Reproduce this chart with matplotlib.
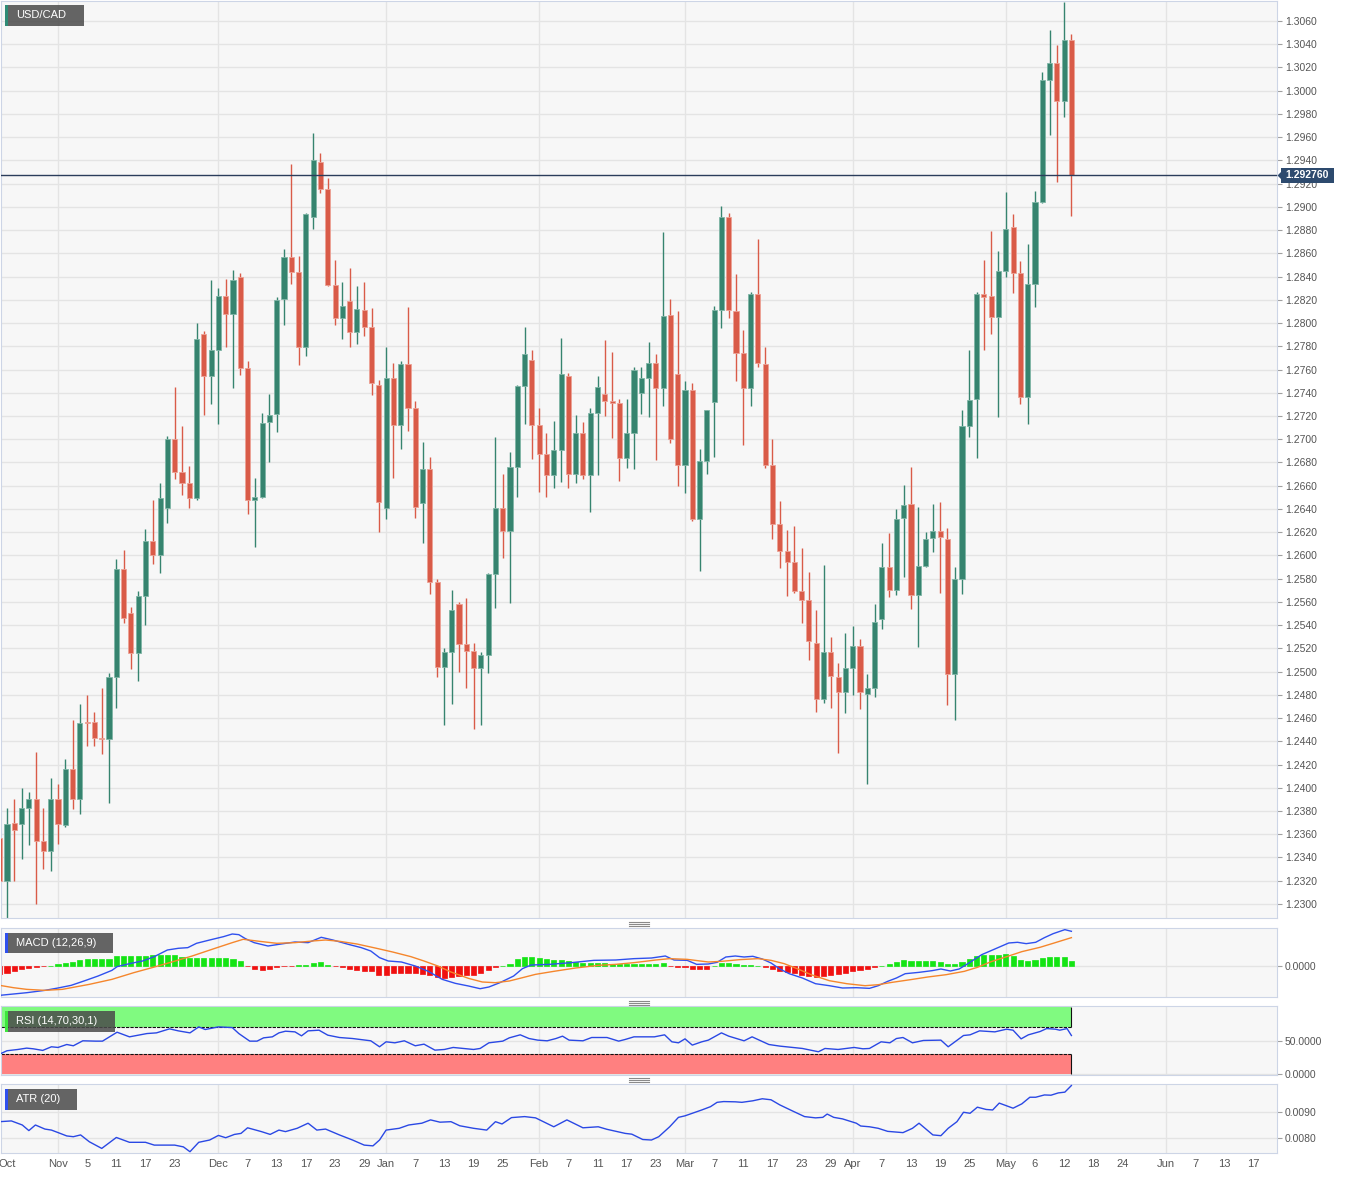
import numpy as np
import pandas as pd
import matplotlib
matplotlib.use("Agg")
import matplotlib.pyplot as plt
from matplotlib.patches import Rectangle, Polygon
from matplotlib.lines import Line2D

plt.rcParams['font.family'] = ['Liberation Sans', 'DejaVu Sans']

# === 1. Данные (USD/CAD, дневные свечи) ===
start, end = "2021-10-20", "2022-05-13"
base_day = "2021-10-21"

opens = [1.2357, 1.2320, 1.2370, 1.2369, 1.2383, 1.2390, 1.2354, 1.2346, 1.2390, 1.2368,
         1.2416, 1.2390, 1.2457, 1.2457, 1.2443, 1.2442, 1.2495, 1.2588, 1.2550, 1.2516,
         1.2565, 1.2612, 1.2600, 1.2641, 1.2700, 1.2672, 1.2662, 1.2649, 1.2791, 1.2754,
         1.2777, 1.2823, 1.2808, 1.2840, 1.2761, 1.2648, 1.2650, 1.2715, 1.2722, 1.2821,
         1.2857, 1.2844, 1.2779, 1.2891, 1.2939, 1.2915, 1.2833, 1.2804, 1.2819, 1.2792,
         1.2811, 1.2797, 1.2747, 1.2641, 1.2753, 1.2712, 1.2765, 1.2727, 1.2645, 1.2674,
         1.2577, 1.2504, 1.2517, 1.2558, 1.2524, 1.2518, 1.2503, 1.2514, 1.2584, 1.2641,
         1.2621, 1.2676, 1.2746, 1.2768, 1.2712, 1.2687, 1.2669, 1.2691, 1.2754, 1.2670,
         1.2705, 1.2669, 1.2723, 1.2739, 1.2733, 1.2731, 1.2684, 1.2705, 1.2740, 1.2753,
         1.2766, 1.2744, 1.2807, 1.2756, 1.2678, 1.2742, 1.2631, 1.2681, 1.2732, 1.2811,
         1.2891, 1.2810, 1.2774, 1.2744, 1.2825, 1.2765, 1.2678, 1.2627, 1.2604, 1.2594,
         1.2569, 1.2562, 1.2525, 1.2476, 1.2517, 1.2495, 1.2482, 1.2503, 1.2522, 1.2481,
         1.2486, 1.2545, 1.2590, 1.2570, 1.2632, 1.2644, 1.2566, 1.2591, 1.2615, 1.2621,
         1.2614, 1.2498, 1.2580, 1.2711, 1.2735, 1.2825, 1.2823, 1.2805, 1.2845, 1.2883,
         1.2843, 1.2736, 1.2834, 1.2904, 1.3009, 1.3024, 1.2991, 1.3044]
highs = [1.2372, 1.2383, 1.2390, 1.2400, 1.2396, 1.2431, 1.2383, 1.2408, 1.2403, 1.2425,
         1.2458, 1.2472, 1.2480, 1.2465, 1.2486, 1.2499, 1.2597, 1.2605, 1.2556, 1.2569,
         1.2623, 1.2648, 1.2662, 1.2703, 1.2745, 1.2711, 1.2677, 1.2800, 1.2793, 1.2837,
         1.2830, 1.2838, 1.2846, 1.2843, 1.2767, 1.2667, 1.2723, 1.2739, 1.2822, 1.2864,
         1.2937, 1.2858, 1.2895, 1.2964, 1.2946, 1.2925, 1.2854, 1.2835, 1.2847, 1.2832,
         1.2835, 1.2813, 1.2751, 1.2779, 1.2766, 1.2767, 1.2814, 1.2733, 1.2698, 1.2685,
         1.2580, 1.2520, 1.2570, 1.2560, 1.2563, 1.2525, 1.2517, 1.2585, 1.2702, 1.2670,
         1.2689, 1.2747, 1.2797, 1.2777, 1.2727, 1.2705, 1.2716, 1.2787, 1.2757, 1.2721,
         1.2715, 1.2727, 1.2754, 1.2785, 1.2775, 1.2735, 1.2735, 1.2762, 1.2762, 1.2784,
         1.2773, 1.2878, 1.2821, 1.2810, 1.2750, 1.2748, 1.2692, 1.2725, 1.2815, 1.2901,
         1.2895, 1.2842, 1.2794, 1.2827, 1.2872, 1.2779, 1.2700, 1.2647, 1.2622, 1.2625,
         1.2606, 1.2586, 1.2553, 1.2592, 1.2530, 1.2507, 1.2533, 1.2539, 1.2528, 1.2498,
         1.2558, 1.2611, 1.2619, 1.2640, 1.2661, 1.2676, 1.2642, 1.2620, 1.2644, 1.2646,
         1.2624, 1.2590, 1.2725, 1.2777, 1.2827, 1.2854, 1.2879, 1.2862, 1.2913, 1.2894,
         1.2853, 1.2868, 1.2914, 1.3016, 1.3052, 1.3039, 1.3076, 1.3049]
lows = [1.2308, 1.2288, 1.2320, 1.2339, 1.2351, 1.2300, 1.2330, 1.2328, 1.2352, 1.2366,
        1.2382, 1.2377, 1.2436, 1.2436, 1.2429, 1.2387, 1.2469, 1.2542, 1.2502, 1.2492,
        1.2540, 1.2593, 1.2585, 1.2628, 1.2666, 1.2652, 1.2641, 1.2648, 1.2721, 1.2730,
        1.2713, 1.2779, 1.2744, 1.2755, 1.2636, 1.2607, 1.2649, 1.2680, 1.2706, 1.2798,
        1.2834, 1.2764, 1.2772, 1.2881, 1.2912, 1.2832, 1.2798, 1.2786, 1.2779, 1.2782,
        1.2789, 1.2738, 1.2620, 1.2631, 1.2667, 1.2692, 1.2707, 1.2632, 1.2611, 1.2567,
        1.2495, 1.2454, 1.2472, 1.2500, 1.2486, 1.2451, 1.2454, 1.2499, 1.2555, 1.2598,
        1.2559, 1.2650, 1.2713, 1.2683, 1.2655, 1.2650, 1.2658, 1.2663, 1.2658, 1.2662,
        1.2666, 1.2637, 1.2669, 1.2720, 1.2701, 1.2664, 1.2675, 1.2674, 1.2722, 1.2719,
        1.2682, 1.2729, 1.2697, 1.2660, 1.2654, 1.2630, 1.2587, 1.2670, 1.2685, 1.2796,
        1.2804, 1.2750, 1.2695, 1.2729, 1.2762, 1.2675, 1.2614, 1.2589, 1.2565, 1.2568,
        1.2542, 1.2510, 1.2465, 1.2473, 1.2469, 1.2430, 1.2464, 1.2480, 1.2468, 1.2403,
        1.2478, 1.2537, 1.2564, 1.2566, 1.2581, 1.2554, 1.2521, 1.2590, 1.2603, 1.2568,
        1.2471, 1.2458, 1.2567, 1.2702, 1.2684, 1.2777, 1.2791, 1.2719, 1.2840, 1.2826,
        1.2730, 1.2713, 1.2814, 1.2903, 1.2962, 1.2921, 1.2977, 1.2892]
closes = [1.2320, 1.2369, 1.2364, 1.2383, 1.2390, 1.2354, 1.2346, 1.2390, 1.2369, 1.2416,
          1.2390, 1.2456, 1.2456, 1.2443, 1.2442, 1.2495, 1.2588, 1.2546, 1.2516, 1.2565,
          1.2612, 1.2600, 1.2649, 1.2700, 1.2672, 1.2662, 1.2649, 1.2786, 1.2754, 1.2777,
          1.2823, 1.2808, 1.2837, 1.2761, 1.2648, 1.2650, 1.2714, 1.2721, 1.2820, 1.2857,
          1.2844, 1.2779, 1.2894, 1.2940, 1.2915, 1.2833, 1.2804, 1.2815, 1.2792, 1.2812,
          1.2797, 1.2748, 1.2646, 1.2753, 1.2712, 1.2765, 1.2727, 1.2642, 1.2674, 1.2577,
          1.2504, 1.2517, 1.2553, 1.2524, 1.2518, 1.2503, 1.2514, 1.2584, 1.2641, 1.2621,
          1.2676, 1.2746, 1.2773, 1.2712, 1.2687, 1.2669, 1.2691, 1.2756, 1.2670, 1.2705,
          1.2669, 1.2723, 1.2745, 1.2733, 1.2731, 1.2684, 1.2705, 1.2760, 1.2753, 1.2766,
          1.2744, 1.2806, 1.2700, 1.2678, 1.2742, 1.2631, 1.2681, 1.2725, 1.2811, 1.2891,
          1.2811, 1.2774, 1.2744, 1.2825, 1.2766, 1.2678, 1.2627, 1.2604, 1.2594, 1.2569,
          1.2562, 1.2526, 1.2476, 1.2517, 1.2496, 1.2482, 1.2503, 1.2522, 1.2482, 1.2486,
          1.2543, 1.2590, 1.2570, 1.2631, 1.2643, 1.2566, 1.2591, 1.2614, 1.2621, 1.2616,
          1.2498, 1.2580, 1.2711, 1.2734, 1.2825, 1.2822, 1.2805, 1.2845, 1.2881, 1.2843,
          1.2736, 1.2834, 1.2904, 1.3009, 1.3024, 1.2991, 1.3044, 1.29276]
last_price = 1.29276

# гистограмма MACD (единицы 1e-4), по одному значению на свечу
macd_hist = [-16.6, -13.4, -10.6, -6.6, -3.4, -1.4, -0.4, 1.0, 3.4, 6.6,
             8.6, 12, 13.4, 13.4, 14, 14.6, 20.6, 20.6, 20, 19.4,
             20, 21.4, 22, 22.6, 21.4, 18.6, 16.6, 16.6, 16.6, 16.6,
             16.6, 15.4, 14.6, 10, -0.6, -5.4, -7.4, -6.6, -2, -0.6,
             -0.2, 1.4, 2, 6.6, 7.4, 2, -0.2, -2, -5.4, -7.4,
             -9.4, -10.6, -17.4, -17.4, -14.6, -13.4, -13.4, -14.6, -16.6, -18.6,
             -22, -24.6, -22.6, -20.6, -18.6, -17.4, -13.4, -8, -2.6, 0.4,
             4.6, 13.4, 18.6, 18.6, 16, 13.4, 12, 12, 9.4, 8,
             6.6, 6, 5.4, 5.4, 4.6, 3.4, 3.4, 3.4, 4, 3.4,
             3.4, 5.4, -0.6, -2, -2.6, -5.4, -6.6, -6, 0.4, 5.4,
             6.6, 4, 1.4, 1.4, 0.6, -2.6, -6.6, -10.6, -12, -14.6,
             -17.4, -20, -21.4, -19.4, -18, -16.6, -14.6, -10.6, -8, -6.6,
             -2.6, 0.6, 4, 7.4, 12, 10.6, 10, 10.6, 10.6, 8.6,
             4, 4, 8.6, 13.4, 20.6, 22.6, 22.6, 22.6, 23.4, 20,
             12, 10.6, 12, 16, 18.6, 18, 18, 10.6]

# линии MACD / сигнальная (номер свечи, значение 1e-4)
macd_bar = [-1.0, 2.7, 5.2, 7.0, 8.8, 10.7, 12.5, 14.4, 15.1, 16.8, 18.6, 20.2, 22.0, 23.5, 24.8,
            26.0, 27.8, 29.7, 30.9, 31.8, 32.7, 33.9, 35.8, 37.6, 39.5, 41.3, 43.1, 44.7, 46.8,
            48.6, 49.9, 51.1, 52.3, 54.1, 56.0, 57.8, 59.7, 61.5, 63.3, 64.9, 66.1, 67.6, 69.5,
            70.7, 71.9, 74.4, 77.4, 80.5, 83.5, 86.0, 88.4, 90.3, 91.5, 93.3, 94.6, 96.2, 97.4,
            98.6, 99.9, 101.1, 102.3, 103.6, 104.8, 106.0, 107.3, 109.1, 110.9, 112.8, 114.6,
            116.5, 118.3, 119.5, 120.8, 122.0, 123.2, 125.1, 126.9, 128.1, 129.4, 130.6, 131.8,
            133.7, 135.5, 137.4, 138.6, 139.8, 141.1, 142.3, 143.5, 145.1, 146.0]
macd_line = [-58.7, -53.4, -48.7, -44.0, -38.7, -29.3, -20.0, -8.7, -1.3, 4.7, 10.0, 18.7, 32.0, 35.4,
             36.7, 45.4, 52.0, 58.7, 64.0, 62.7, 54.7, 46.7, 40.0, 44.0, 48.0, 46.7, 57.4, 52.0,
             43.4, 36.7, 30.0, 16.7, 10.0, 8.0, 0.0, -10.7, -26.7, -34.7, -40.0, -45.4, -42.0,
             -33.4, -20.0, -5.3, 2.0, 3.3, 6.7, 11.3, 12.0, 14.7, 16.0, 20.0, 12.0, 11.3, 3.3,
             4.0, 7.3, 18.0, 20.0, 18.0, 19.4, 14.0, 6.0, -6.0, -15.4, -24.0, -35.4, -39.4,
             -44.0, -43.4, -44.7, -39.4, -30.7, -24.0, -15.4, -12.7, -9.3, -6.0, -10.0, -6.0,
             4.7, 22.7, 34.0, 46.0, 47.4, 44.7, 47.4, 56.7, 64.7, 72.7, 69.4]
signal_bar = [-1.0, 0.9, 2.7, 5.2, 7.6, 11.3, 14.4, 17.4, 19.9, 22.3, 25.4, 28.4, 30.9, 32.4, 34.6,
              37.0, 39.5, 41.9, 43.7, 45.6, 48.0, 50.5, 52.9, 55.4, 57.2, 59.1, 60.9, 63.3, 65.2,
              67.0, 68.9, 70.7, 72.5, 75.0, 78.0, 81.1, 83.5, 86.0, 89.0, 90.9, 93.3, 95.1, 96.2,
              98.0, 100.5, 103.0, 104.8, 106.6, 108.5, 110.3, 112.8, 115.2, 117.7, 119.5, 121.4,
              123.9, 126.3, 128.8, 131.3, 133.1, 135.0, 137.4, 139.2, 141.7, 143.5, 146.0]
signal_line = [-38.7, -43.4, -46.7, -48.7, -46.7, -36.7, -26.7, -13.3, -3.3, 6.7, 20.0, 34.7, 46.7,
               53.4, 49.4, 45.4, 46.7, 50.0, 52.0, 49.4, 44.0, 36.0, 28.0, 18.7, 10.0, 0.0, -12.0,
               -24.7, -32.0, -33.4, -30.0, -23.4, -16.7, -10.7, -4.0, 1.3, 3.3, 6.7, 12.0, 14.7,
               13.3, 10.0, 8.0, 9.3, 12.7, 14.7, 11.3, 4.7, -6.0, -17.4, -29.4, -35.4, -39.4,
               -37.4, -32.7, -27.4, -22.0, -17.4, -10.7, -2.7, 8.7, 20.0, 28.7, 37.4, 45.4, 56.7]

rsi_bar = [-1, 0, 1.5, 2.7, 3.6, 4.9, 6.1, 7.0, 8.2, 9.1, 10.4, 12.2, 13.1, 15.1, 16.8, 19.2, 20.5,
           22.3, 23.5, 25.1, 26.3, 27.2, 29.0, 30.9, 31.8, 33.3, 34.3, 35.2, 36.4, 37.3, 38.2,
           39.5, 40.4, 41.3, 42.8, 44.0, 45.6, 47.4, 49.9, 51.1, 52.0, 53.2, 54.5, 56.0, 57.2,
           58.7, 60.0, 61.2, 64.0, 64.9, 66.1, 68.0, 68.9, 70.4, 71.6, 72.8, 74.1, 75.3, 76.2,
           77.1, 79.0, 80.2, 82.3, 83.9, 84.8, 86.0, 88.8, 90.2, 91.2, 92.1, 93.0, 94.0, 95.3,
           96.2, 98.0, 99.0, 101.1, 102.2, 104.5, 106.0, 109.1, 111.3, 112.2, 114.0, 116.2,
           117.4, 118.3, 119.9, 121.1, 122.0, 122.9, 124.2, 125.7, 128.1, 129.1, 131.2, 132.1,
           133.4, 135.5, 137.1, 138.0, 139.1, 140.1, 141.7, 142.6, 143.8, 144.4, 145.4, 146.0]
rsi_vals = [30.1, 35.1, 37.0, 39.0, 38.0, 35.6, 41.0, 40.0, 44.4, 42.5, 49.9, 49.4, 49.4, 62.7, 55.8,
            60.7, 61.7, 67.7, 64.7, 61.7, 70.6, 66.7, 70.6, 69.6, 60.7, 49.4, 49.4, 54.3, 55.8,
            61.7, 64.2, 63.2, 57.3, 64.7, 65.7, 58.3, 54.8, 53.3, 49.9, 41.0, 48.4, 46.9, 49.9,
            42.5, 44.9, 36.0, 37.0, 40.0, 37.0, 38.5, 46.9, 49.4, 54.3, 58.8, 53.3, 50.9, 49.9,
            53.3, 56.8, 50.9, 49.9, 54.8, 54.8, 49.4, 51.9, 55.8, 55.8, 58.8, 48.4, 46.9, 52.8,
            43.5, 48.4, 50.9, 61.7, 56.8, 49.9, 55.8, 44.4, 42.0, 38.5, 33.6, 38.5, 37.0, 40.0,
            38.0, 38.5, 48.4, 46.9, 53.3, 54.8, 46.9, 50.4, 50.9, 41.0, 57.8, 58.8, 64.7, 63.2,
            67.2, 65.7, 52.8, 58.8, 63.7, 68.1, 67.2, 65.7, 68.1, 57.8]

atr_bar = [-1, 0.6, 2.1, 3.0, 3.9, 5.2, 6.1, 7.3, 8.2, 9.1, 10.1, 11.3, 13.0, 15.0, 16.8, 19.0,
           20.2, 23.0, 24.2, 25.1, 26.3, 27.8, 29.0, 30.0, 31.2, 32.1, 33.0, 34.9, 36.1, 37.3,
           38.2, 39.8, 41.3, 42.5, 43.7, 45.6, 47.4, 49.0, 50.2, 51.1, 52.0, 53.8, 55.1, 56.9,
           58.1, 59.4, 60.9, 62.1, 64.0, 65.8, 67.0, 67.9, 69.2, 71.0, 72.5, 75.0, 76.8, 79.0,
           81.1, 82.3, 84.8, 85.7, 87.2, 88.4, 89.4, 90.9, 92.1, 93.0, 94.0, 95.3, 96.5, 97.4,
           98.3, 99.9, 100.8, 102.3, 103.6, 104.8, 106.0, 107.9, 109.4, 110.9, 111.9, 112.5,
           113.4, 114.6, 116.5, 117.1, 118.3, 119.5, 120.8, 122.9, 124.2, 125.1, 127.0, 128.1,
           129.1, 130.3, 131.2, 132.1, 133.1, 134.3, 135.2, 136.1, 138.0, 139.2, 140.3, 141.1,
           142.3, 143.2, 144.2, 145.1, 146.0]
atr_vals = [86.3, 86.6, 85.0, 82.8, 85.0, 83.4, 83.0, 81.7, 80.7, 80.4, 81.1, 78.4, 75.8, 80.1, 78.2,
            78.2, 77.1, 77.1, 76.4, 74.5, 78.2, 79.1, 80.9, 80.0, 81.3, 81.7, 83.9, 82.4, 81.3,
            83.0, 82.4, 83.7, 85.7, 83.0, 83.4, 81.1, 79.1, 77.1, 76.8, 79.1, 83.0, 83.7, 85.0,
            85.7, 87.0, 86.1, 86.3, 84.7, 83.7, 83.0, 86.3, 85.4, 87.9, 88.3, 87.8, 84.3, 87.0,
            83.9, 84.3, 83.3, 81.7, 81.4, 79.3, 79.1, 80.4, 84.3, 88.0, 88.6, 89.6, 90.9, 92.2,
            93.9, 94.2, 94.1, 93.9, 94.5, 95.3, 94.9, 92.9, 90.3, 88.3, 87.8, 88.0, 89.3, 88.0,
            87.4, 85.7, 84.6, 84.3, 83.7, 82.5, 82.0, 83.7, 85.7, 81.1, 80.8, 83.7, 86.3, 90.0,
            89.6, 92.0, 91.1, 90.9, 93.6, 91.6, 93.3, 95.9, 95.9, 96.8, 96.7, 97.6, 97.9, 100.5]

month_starts = ["2021-11-01", "2021-12-01", "2022-01-03", "2022-02-01", "2022-03-01",
                "2022-04-01", "2022-05-02", "2022-06-01"]
tick_dates = ["2021-10-21", "2021-11-01", "2021-11-05", "2021-11-11", "2021-11-17", "2021-11-23",
              "2021-12-01", "2021-12-07", "2021-12-13", "2021-12-17", "2021-12-23", "2021-12-29",
              "2022-01-03", "2022-01-07", "2022-01-13", "2022-01-19", "2022-01-25",
              "2022-02-01", "2022-02-07", "2022-02-11", "2022-02-17", "2022-02-23",
              "2022-03-01", "2022-03-07", "2022-03-11", "2022-03-17", "2022-03-23", "2022-03-29",
              "2022-04-01", "2022-04-07", "2022-04-13", "2022-04-19", "2022-04-25",
              "2022-05-02", "2022-05-06", "2022-05-12", "2022-05-18", "2022-05-24",
              "2022-06-01", "2022-06-07", "2022-06-13", "2022-06-17"]
tick_labels = ["Oct", "Nov", "5", "11", "17", "23", "Dec", "7", "13", "17", "23", "29",
               "Jan", "7", "13", "19", "25", "Feb", "7", "11", "17", "23",
               "Mar", "7", "11", "17", "23", "29", "Apr", "7", "13", "19", "25",
               "May", "6", "12", "18", "24", "Jun", "7", "13", "17"]


def bar_pos(days):
    d = np.array(pd.to_datetime(days).values, dtype="datetime64[D]")
    return np.busday_count(np.datetime64(base_day), d)


dates = pd.bdate_range(start, end)
x = bar_pos(dates)
o, h, l, c = map(np.array, (opens, highs, lows, closes))
month_pos = bar_pos(month_starts)

# === 2. Холст и панели ===
W, H = 1353, 1179
fig = plt.figure(figsize=(W / 100, H / 100), dpi=100)
fig.patch.set_facecolor("white")
x_left, x_right = -0.82, 174.2
grid_col = "#e4e4e4"


def panel(y_top, y_bot):
    ax = fig.add_axes([1 / W, 1 - y_bot / H, 1276 / W, (y_bot - y_top) / H])
    ax.set_facecolor("#f7f7f7")
    for s in ax.spines.values():
        s.set_color("#cdd5e6")
    ax.yaxis.tick_right()
    ax.tick_params(axis="y", length=3.8, width=0.8, color="#a0a0a0",
                   labelsize=7.5, labelcolor="#555555", pad=2)
    ax.tick_params(axis="x", length=0, labelbottom=False)
    ax.set_xlim(x_left, x_right)
    ax.vlines(month_pos, 0, 1, transform=ax.get_xaxis_transform(), color=grid_col, lw=1, zorder=0)
    ax.grid(axis="y", color=grid_col, lw=1)
    ax.set_axisbelow(True)
    return ax


ax = panel(1, 918)
ax_macd = panel(928, 997)
ax_rsi = panel(1006, 1075)
ax_atr = panel(1084, 1153)

# === 3. Свечи ===
up_col, dn_col = "#36846f", "#d95b48"
cols = np.where(c >= o, up_col, dn_col)
edges = np.where(c >= o, "#7fb5a6", "#eca195")
ax.vlines(x, l, h, colors=cols, lw=1, zorder=2)
ax.bar(x, np.abs(c - o), bottom=np.minimum(o, c), width=0.7, color=cols,
       edgecolor=edges, linewidth=0.6, zorder=3)
ax.set_ylim(1.22879, 1.30772)
price_ticks = np.round(np.arange(1.2300, 1.30601, 0.002), 4)
ax.set_yticks(price_ticks, [f"{v:.4f}" for v in price_ticks])
ax.axhline(last_price, color="#2b3d5b", lw=1, zorder=4)

# === 4. MACD ===
hist = np.array(macd_hist) * 1e-4
ax_macd.bar(x, hist, width=0.7, color=np.where(hist >= 0, "#14e414", "#f01010"),
            edgecolor=np.where(hist >= 0, "#14e414", "#f01010"), linewidth=0.5, zorder=2)
ax_macd.plot(macd_bar, np.array(macd_line) * 1e-4, color="#2f50ee", lw=1, zorder=3)
ax_macd.plot(signal_bar, np.array(signal_line) * 1e-4, color="#f5862c", lw=1, zorder=3)
ax_macd.set_ylim(-0.0062, 0.0076)
ax_macd.set_yticks([0.0], ["0.0000"])

# === 5. RSI ===
ax_rsi.add_patch(Rectangle((x_left - 1, 70), x[-1] - x_left + 1, 30, fc="#80fa80", ec="none", zorder=1))
ax_rsi.add_patch(Rectangle((x_left - 1, 0), x[-1] - x_left + 1, 30, fc="#ff8080", ec="none", zorder=1))
for lvl, lo, hi in [(70, 70, 100), (30, 0, 30)]:
    ax_rsi.hlines(lvl, x_left, x[-1], color="#111111", lw=0.8, linestyles=(0, (3, 1)), zorder=2)
    ax_rsi.vlines(x[-1], lo, hi, color="#111111", lw=0.8, zorder=2)
ax_rsi.plot(rsi_bar, rsi_vals, color="#2a48e4", lw=1, zorder=3)
ax_rsi.set_ylim(-1.0, 101.7)
ax_rsi.set_yticks([0, 50], ["0.0000", "50.0000"])

# === 6. ATR ===
ax_atr.plot(atr_bar, np.array(atr_vals) * 1e-4, color="#2a48e4", lw=1, zorder=3)
ax_atr.set_ylim(0.00740, 0.01011)
ax_atr.set_yticks([0.008, 0.009], ["0.0080", "0.0090"])
ax_atr.set_xticks(bar_pos(tick_dates), tick_labels)
ax_atr.tick_params(axis="x", labelbottom=True, length=0, pad=4, labelsize=8, labelcolor="#555555")


# === 7. Подписи панелей, метка цены, разделители ===
def fig_rect(x0, y0, x1, y1, **kw):
    r = Rectangle((x0 / W, 1 - y1 / H), (x1 - x0) / W, (y1 - y0) / H,
                  transform=fig.transFigure, **kw)
    fig.add_artist(r)


def label_box(x0, y0, x1, y1, text, accent):
    fig_rect(x0, y0, x1, y1, fc="#4a4a4a", alpha=0.85, ec="none", zorder=10)
    fig_rect(x0, y0, x0 + 2.5, y1, fc=accent, ec="none", zorder=11)
    fig.text((x0 + 11) / W, 1 - (y0 + y1) / 2 / H, text, color="white", fontsize=8,
             ha="left", va="center", zorder=12)


label_box(5, 5, 84, 26, "USD/CAD", "#2e8b76")
label_box(5, 933, 113, 953, "MACD (12,26,9)", "#2f50ee")
label_box(5, 1011, 115, 1032, "RSI (14,70,30,1)", "#3ee63e")
label_box(5, 1089, 77, 1110, "ATR (20)", "#2f50ee")

y_lp = 1 - 175.5 / H
fig_rect(1281, 168, 1334, 183, fc="#2d4a6e", ec="none", zorder=10)
fig.add_artist(Polygon([(1277.5 / W, y_lp), (1281.5 / W, y_lp + 4 / H), (1281.5 / W, y_lp - 4 / H)],
                       closed=True, transform=fig.transFigure, fc="#2d4a6e", ec="none", zorder=10))
fig.text(1307.5 / W, y_lp, f"{last_price:.6f}", color="white", fontsize=7.5, fontweight="bold",
         ha="center", va="center", zorder=12)

for y0 in (922.3, 1000.7, 1078.3):
    for k in range(3):
        yy = 1 - (y0 + 2 * k) / H
        fig.add_artist(Line2D([628.5 / W, 648.5 / W], [yy, yy], transform=fig.transFigure,
                              color="#8a8a8a", lw=0.8))

plt.savefig("out.png", dpi=100, facecolor="white")
plt.close()
